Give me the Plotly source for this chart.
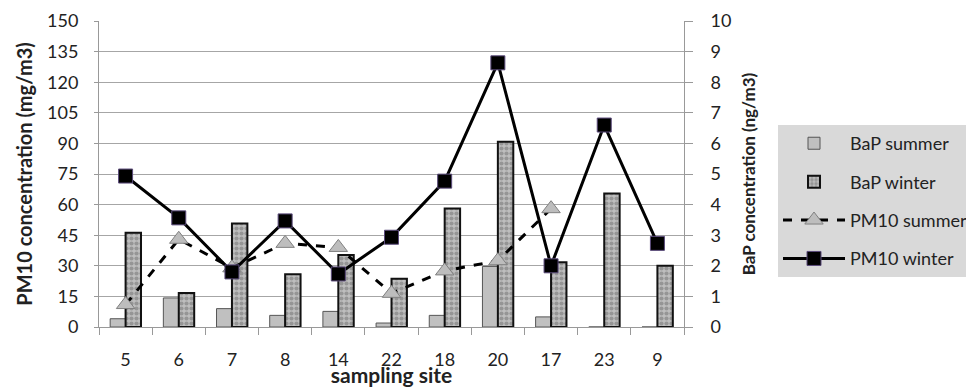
import plotly.graph_objects as go

sites = ["5", "6", "7", "8", "14", "22", "18", "20", "17", "23", "9"]
bap_summer = [0.27, 0.95, 0.6, 0.38, 0.51, 0.13, 0.38, 1.98, 0.33, 0, 0]
bap_winter = [3.08, 1.11, 3.38, 1.72, 2.35, 1.58, 3.87, 6.05, 2.12, 4.36, 2.0]
pm10_summer = [11, 43, 29, 41, 39, 16.5, 27.5, 32.5, 58, None, None]
pm10_winter = [74, 53.5, 27, 52, 26, 44, 71.5, 129.5, 30, 99, 41]

FONT = "Lato"

fig = go.Figure()
fig.add_trace(go.Bar(
    x=sites, y=bap_summer, name="BaP summer", yaxis="y", legendgroup="a",
    marker=dict(color="#c0c0c0", line=dict(color="#555555", width=1)),
))
fig.add_trace(go.Bar(
    x=sites, y=bap_winter, name="BaP winter", yaxis="y", legendgroup="b",
    marker=dict(color="#b0b0b0", line=dict(color="#111111", width=2),
                pattern=dict(shape=".", fgcolor="#6c6c6c", bgcolor="#bebebe",
                             size=5, solidity=0.55, fillmode="overlay")),
))
fig.add_trace(go.Scatter(
    x=sites, y=pm10_summer, name="PM10 summer", yaxis="y2", mode="lines+markers",
    legendgroup="c",
    line=dict(color="black", width=3, dash="dash"),
    marker=dict(symbol="triangle-up", size=16, color="#bdbdbd",
                line=dict(color="#808080", width=1)),
))
fig.add_trace(go.Scatter(
    x=sites, y=pm10_winter, name="PM10 winter", yaxis="y2", mode="lines+markers",
    legendgroup="d",
    line=dict(color="black", width=3),
    marker=dict(symbol="square", size=14, color="black",
                line=dict(color="#5a4a7a", width=1)),
))

fig.update_layout(
    width=1000, height=379,
    margin=dict(l=91, r=324, t=13, b=60),
    paper_bgcolor="white", plot_bgcolor="white",
    font=dict(family=FONT, size=18, color="#222"),
    barmode="group", bargap=0.42, bargroupgap=0,
    showlegend=True,
    legend=dict(x=1.1607, y=0.66, xanchor="left", yanchor="top",
                bgcolor="#d9d9d9", font=dict(size=18, color="#222"),
                tracegroupgap=12, itemwidth=62,
                traceorder="grouped"),
    xaxis=dict(
        type="category", range=[-0.5, 10.5], tickson="boundaries",
        ticks="outside", ticklen=7,
        tickcolor="#999", showline=True, linecolor="#999", linewidth=1,
        showgrid=False, ticklabelstandoff=16,
        title=dict(text="<b>sampling site</b>", standoff=1, font=dict(size=21)),
        automargin=False,
    ),
    yaxis=dict(
        side="right", range=[0, 10], dtick=1, showgrid=True, gridcolor="#a6a6a6",
        showline=True, linecolor="#999", ticks="outside", ticklen=8, tickcolor="#999",
        ticklabelstandoff=14,
        title=dict(text="<b>BaP concentration (ng/m3)</b>", font=dict(size=17), standoff=12),
        automargin=False, zeroline=False,
    ),
    yaxis2=dict(
        overlaying="y", side="left", range=[0, 150], dtick=15, showgrid=False,
        showline=True, linecolor="#999", ticks="outside", ticklen=4, tickcolor="#999",
        ticklabelstandoff=12,
        title=dict(text="<b>PM10 concentration (mg/m3)</b>", font=dict(size=20), standoff=9),
        automargin=False, zeroline=False,
    ),
)

fig.write_html("out.html")
